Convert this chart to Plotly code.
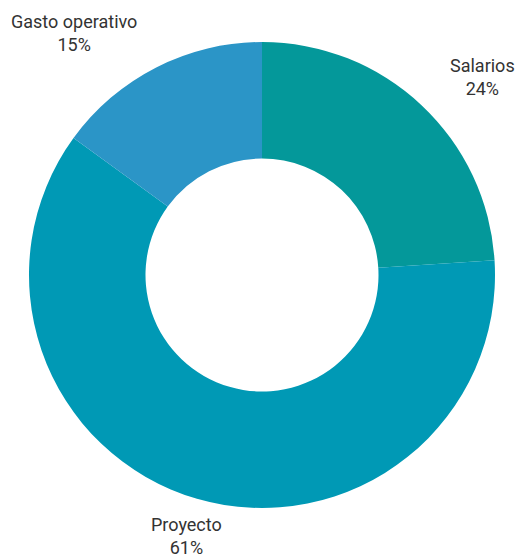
import math
import plotly.graph_objects as go

labels = ["Salarios", "Proyecto", "Gasto operativo"]
values = [24, 61, 15]
colors = ["#04989A", "#0099B5", "#2B95C7"]

fig = go.Figure(go.Pie(
    labels=labels,
    values=values,
    hole=0.5,
    sort=False,
    direction="clockwise",
    rotation=0,
    marker=dict(colors=colors, line=dict(width=0)),
    textinfo="none",
    showlegend=False,
    hoverinfo="label+percent",
))

# outside labels placed along each slice's mid-angle
label_radius = 1.167  # relative to outer radius
total = sum(values)
cum = 0.0
annotations = []
for lab, v in zip(labels, values):
    mid = (cum + v / 2) / total * 2 * math.pi
    cum += v
    s, c = math.sin(mid), math.cos(mid)
    if abs(s) < 0.35:
        xa = "center"
    elif s > 0:
        xa = "left"
    else:
        xa = "right"
    annotations.append(dict(
        x=0.5 + 0.5 * label_radius * s,
        y=0.5 + 0.5 * label_radius * c,
        xref="paper", yref="paper",
        xanchor=xa, yanchor="middle",
        align="center",
        showarrow=False,
        text=f"{lab}<br>{round(v / total * 100)}%",
        font=dict(family="Roboto", size=18, color="#333333"),
    ))

fig.update_layout(
    width=516,
    height=555,
    margin=dict(l=29, r=21, t=42, b=47, autoexpand=False),
    paper_bgcolor="white",
    plot_bgcolor="white",
    annotations=annotations,
)

fig.write_html("out.html")
